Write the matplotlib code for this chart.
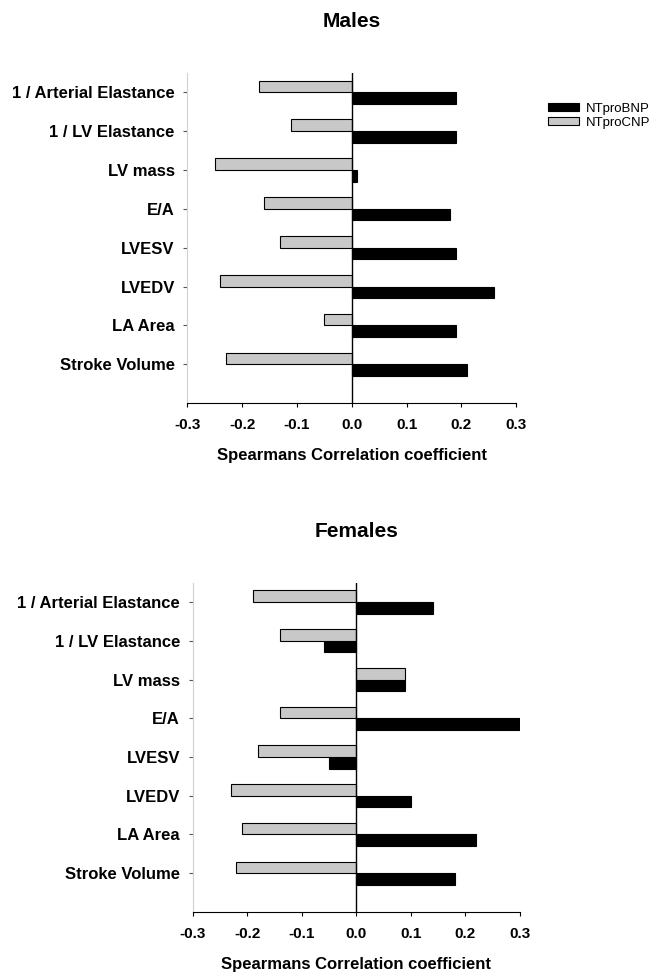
import matplotlib.pyplot as plt
import numpy as np

plt.rcParams['font.family'] = ['Liberation Sans', 'DejaVu Sans']

# categories listed bottom to top
categories = ["Stroke Volume", "LA Area", "LVEDV", "LVESV", "E/A",
              "LV mass", "1 / LV Elastance", "1 / Arterial Elastance"]

males_bnp = [0.21, 0.19, 0.26, 0.19, 0.18, 0.01, 0.19, 0.19]
males_cnp = [-0.23, -0.05, -0.24, -0.13, -0.16, -0.25, -0.11, -0.17]

females_bnp = [0.18, 0.22, 0.10, -0.05, 0.30, 0.09, -0.06, 0.14]
females_cnp = [-0.22, -0.21, -0.23, -0.18, -0.14, 0.09, -0.14, -0.19]

xticks = [-0.3, -0.2, -0.1, 0.0, 0.1, 0.2, 0.3]


def draw_panel(ax, bnp, cnp, title, legend=False):
    y = np.arange(len(categories))
    h = 0.3
    ax.barh(y - h / 2, bnp, height=h, color="black", edgecolor="black",
            linewidth=0.8, label="NTproBNP")
    ax.barh(y + h / 2, cnp, height=h, color="#c8c8c8", edgecolor="black",
            linewidth=0.8, label="NTproCNP")
    ax.axvline(0, color="black", linewidth=1)
    ax.set_xlim(-0.3, 0.3)
    ax.set_ylim(-1, 7.5)
    ax.set_xticks(xticks)
    ax.set_xticklabels(["%.1f" % v for v in xticks], fontweight="bold", fontsize=11)
    ax.set_yticks(y)
    ax.set_yticklabels(categories, fontweight="bold", fontsize=12)
    ax.tick_params(axis="y", length=3, color="#555555", pad=6)
    ax.tick_params(axis="x", length=3, pad=8)
    ax.spines["top"].set_visible(False)
    ax.spines["right"].set_visible(False)
    ax.spines["left"].set_color("#d0d0d0")
    ax.set_xlabel("Spearmans Correlation coefficient", fontweight="bold",
                  fontsize=12, labelpad=11)
    ax.set_title(title, fontweight="bold", fontsize=15, pad=33)
    if legend:
        ax.legend(loc="upper left", bbox_to_anchor=(1.06, 0.945), frameon=False,
                  fontsize=9.5, handlelength=2.4, handleheight=0.6,
                  labelspacing=0.15, handletextpad=0.5)


fig = plt.figure(figsize=(6.55, 9.74), dpi=100)
ax1 = fig.add_axes([0.286, 0.5862, 0.502, 0.339])
ax2 = fig.add_axes([0.294, 0.0637, 0.500, 0.338])

draw_panel(ax1, males_bnp, males_cnp, "Males", legend=True)
draw_panel(ax2, females_bnp, females_cnp, "Females")

fig.savefig("out.png", dpi=100)
